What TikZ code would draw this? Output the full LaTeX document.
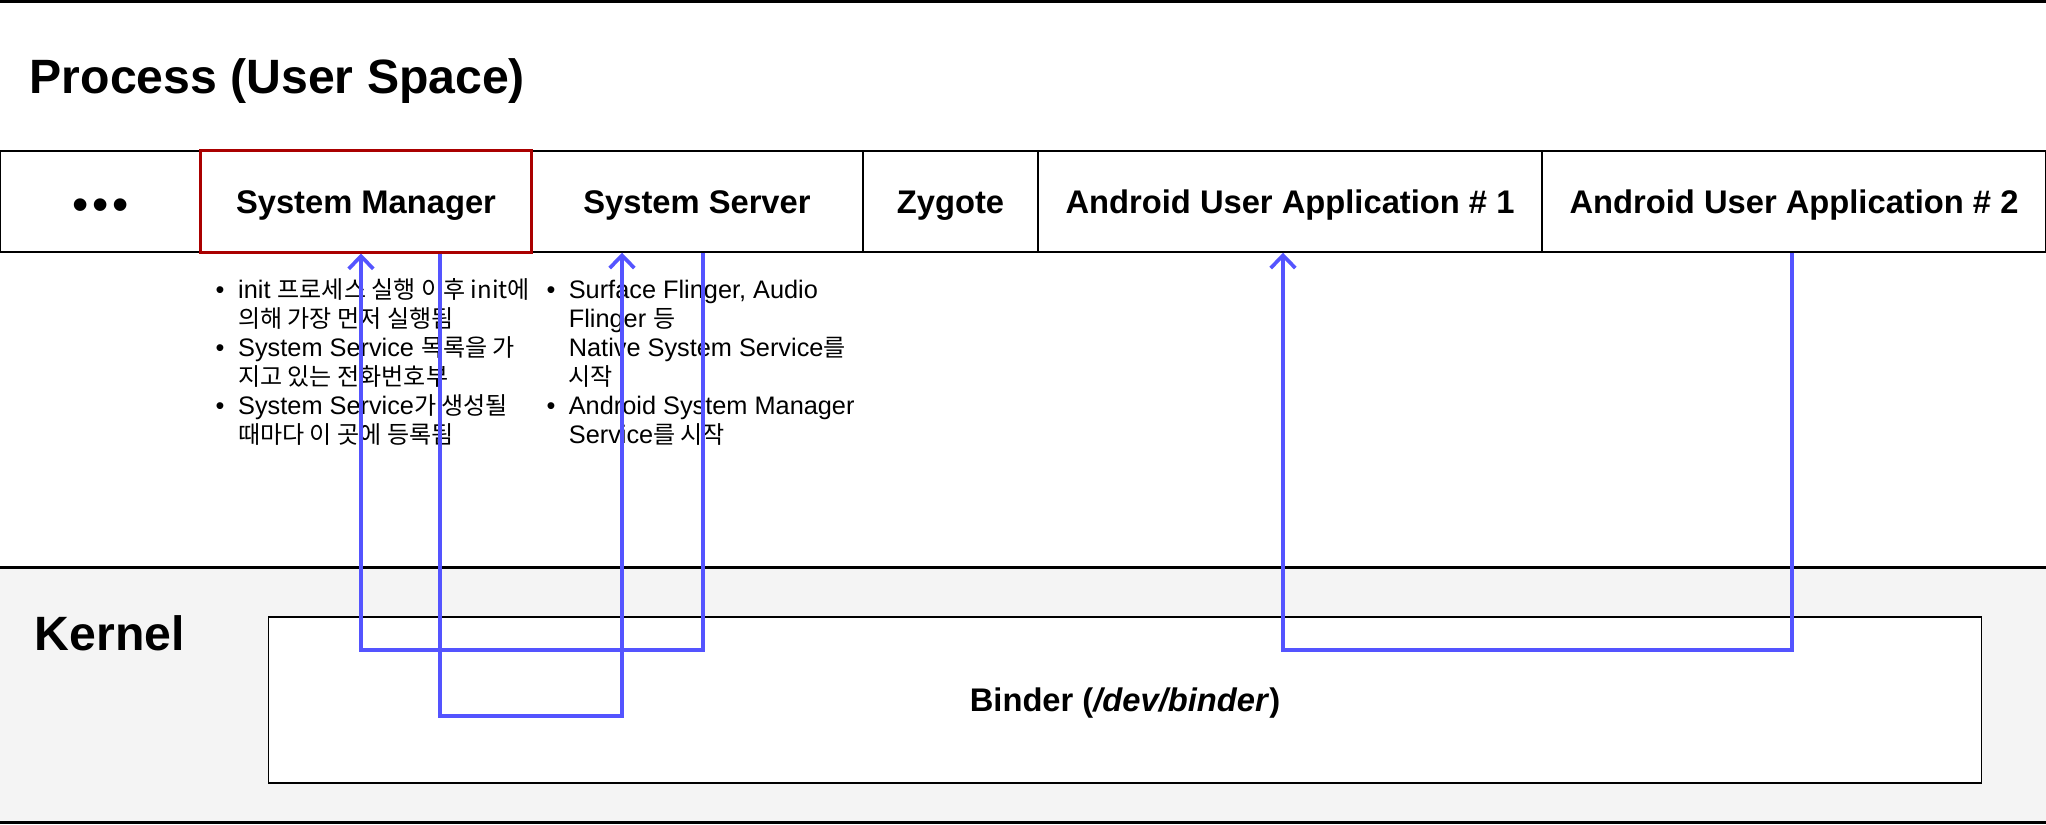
\documentclass[tikz,border=0pt]{standalone}
\usepackage{fontspec}
\setmainfont{Liberation Sans}
\newfontfamily\kr{Noto Sans CJK KR}[Scale=0.95]
\usepackage{tikz}
\usetikzlibrary{arrows.meta}
\definecolor{linkblue}{RGB}{84,84,255}
\definecolor{mgrred}{RGB}{170,0,0}
\definecolor{kernelgray}{RGB}{244,244,244}

\begin{document}
\begin{tikzpicture}[x=0.01cm, y=-0.01cm,
		>={Straight Barb[length=3.6pt,width=7pt]},
		heading/.style={anchor=base west, inner sep=0pt, font=\fontsize{13.7pt}{16pt}\selectfont\bfseries},
		procbox/.style={draw, line width=0.4pt, minimum height=1.01cm, inner sep=0pt, text height=6.7pt, text depth=0pt, font=\fontsize{9.3pt}{11pt}\selectfont\bfseries},
		mgrbox/.style={procbox, draw=mgrred, line width=0.85pt},
		notes/.style={anchor=north west, inner sep=0pt, font=\fontsize{7.2pt}{8.25pt}\selectfont},
		link/.style={draw=linkblue, line width=1.05pt},
		sepline/.style={line width=0.85pt}]
		
		\useasboundingbox (0,0) rectangle (2046,824);
		% kernel band
		\fill[kernelgray] (0,567) rectangle (2046,822);
		\draw[sepline] (0,1.4) -- (2046,1.4);
		\draw[sepline] (0,567) -- (2046,567);
		\draw[sepline] (0,822) -- (2046,822);
		
		\node[heading] (usertitle) at (29,93) {Process (User Space)};
		\node[heading] (kerneltitle) at (34,650) {Kernel};
		
		% process row
		\node[procbox, minimum width=2.01cm, text height=10.6pt, font=\fontsize{13.2pt}{15pt}\selectfont] (dots) at (100.5,201.5) {\textbullet\kern1.1pt\textbullet\kern1.1pt\textbullet};
		\node[procbox, minimum width=3.32cm] (syssrv) at (697,201.5) {System Server};
		\node[procbox, minimum width=1.75cm] (zygote) at (950.5,201.5) {Zygote};
		\node[procbox, minimum width=5.04cm] (app1) at (1290,201.5) {Android User Application \# 1};
		\node[procbox, minimum width=5.04cm] (app2) at (1794,201.5) {Android User Application \# 2};
		\node[mgrbox, minimum width=3.30cm] (sysmgr) at (366,201.5) {System Manager};
		
		% notes
		\node[notes] (mgrnotes) at (215,277) {\begin{tabular}{@{}p{6.4pt}@{}l@{}}
				\textbullet & init \kr{프로세스 실행 이후} init\kr{에}\\
				& \kr{의해 가장 먼저 실행됨}\\
				\textbullet & System Service \kr{목록을 가}\\
				& \kr{지고 있는 전화번호부}\\
				\textbullet & System Service\kr{가 생성될}\\
				& \kr{때마다 이 곳에 등록됨}
		\end{tabular}};
		\node[notes] (srvnotes) at (546,277) {\begin{tabular}{@{}p{6.3pt}@{}l@{}}
				\textbullet & Surface Flinger, Audio\\
				& Flinger \kr{등}\\
				& Native System Service\kr{를}\\
				& \kr{시작}\\
				\textbullet & Android System Manager\\
				& Service\kr{를 시작}
		\end{tabular}};
		
		% kernel
		\node[procbox, fill=white, minimum width=17.12cm, minimum height=1.66cm] (binder) at (1125,700) {Binder (\textit{/dev/binder})};
		
		% binder links
		\coordinate (srvout) at (703,650);
		\coordinate (mgrin) at (361,650);
		\coordinate (mgrout) at (440,716);
		\coordinate (srvin) at (622,716);
		\coordinate (appout) at (1792,650);
		\coordinate (appin) at (1283,650);
		\draw[link,->] (syssrv.south -| srvout) -- (srvout) -- (mgrin) -- (sysmgr.south -| mgrin);
		\draw[link,->] (sysmgr.south -| mgrout) -- (mgrout) -- (srvin) -- (syssrv.south -| srvin);
		\draw[link,->] (app2.south -| appout) -- (appout) -- (appin) -- (app1.south -| appin);
	\end{tikzpicture}
\end{document}
